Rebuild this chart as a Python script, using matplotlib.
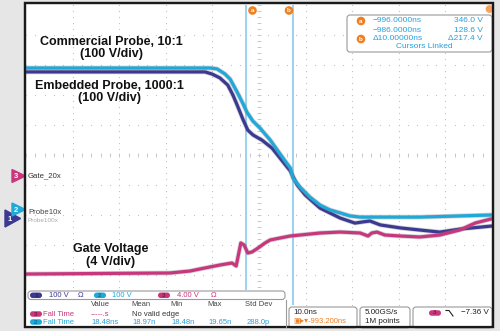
import matplotlib
matplotlib.use("Agg")
import matplotlib.pyplot as plt
import matplotlib.patheffects as pe
from matplotlib.patches import Rectangle, FancyBboxPatch, Polygon, Circle
import numpy as np

plt.rcParams['font.family'] = ['Liberation Sans', 'DejaVu Sans']

# ---- scope settings ----
t_center = -993.2          # ns, horizontal position
ns_per_div = 10.0
cursor_a = -996.0
cursor_b = -986.0

# ch1 = embedded probe, ch2 = commercial probe, ch3 = gate voltage
ch_scale = [100.0, 100.0, 4.0]     # V/div
ch_offset = [-2.1, -1.8, -0.7]     # div (marker positions)

# ---- waveforms (ns, V) ----
t_ch2 = [-1043.0, -1003.7, -1002.2, -1000.5, -999.4, -997.9, -996.6, -995.8,
         -994.5, -993.0, -990.8, -989.3, -987.6, -986.5, -985.9, -984.4,
         -982.3, -980.1, -978.0, -975.8, -973.7, -971.5, -958.7, -943.4]
v_ch2 = [470, 470, 467, 450, 433, 390, 350, 323, 293, 270, 230, 197, 160, 137,
         103, 73, 40, 13, -3, -13, -23, -27, -27, -20]

t_ch1 = [-1043.0, -1004.8, -1003.3, -1001.6, -999.9, -998.8, -997.9, -996.6,
         -995.6, -994.5, -993.4, -992.6, -990.4, -988.7, -986.5, -985.0,
         -983.3, -980.1, -975.8, -972.6, -970.9, -969.4, -967.2, -962.9,
         -958.7, -954.4, -950.1, -943.4]
v_ch1 = [487, 487, 480, 467, 443, 410, 377, 327, 293, 277, 267, 260, 233, 200,
         157, 110, 77, 33, 0, -17, -13, -10, -23, -33, -40, -47, -37, -27]

t_ch3 = [-1043.0, -1012.3, -1008.0, -1005.9, -1001.6, -999.0, -998.1, -997.1,
         -996.4, -995.6, -994.7, -993.4, -991.9, -990.8, -988.7, -986.5,
         -984.4, -980.1, -975.8, -971.5, -969.8, -969.0, -967.9, -966.2,
         -962.9, -958.7, -954.4, -950.1, -946.8, -943.4]
v_ch3 = [-13.07, -12.93, -12.67, -12.40, -11.87, -11.60, -12.00, -8.93,
         -9.20, -10.27, -10.13, -9.60, -8.93, -8.53, -8.27, -8.00,
         -7.87, -7.60, -7.47, -7.60, -8.00, -7.60, -7.47, -7.87,
         -8.00, -8.13, -7.87, -7.20, -6.27, -5.73]

cursor_rows = [("a", "\u2212996.0000ns", "346.0 V"),
               ("", "\u2212986.0000ns", "128.6 V"),
               ("b", "\u039410.00000ns", "\u0394217.4 V")]
meas_header = ["Value", "Mean", "Min", "Max", "Std Dev"]
meas_ch3 = ["-----.s", "No valid edge"]
meas_ch2 = ["18.48ns", "18.97n", "18.48n", "19.65n", "288.0p"]

C1 = '#3b3990'
C2 = '#1fa8d8'
C3 = '#c8377c'
BLUE_TXT = '#2a9fdc'
ORANGE = '#f07f22'

fig = plt.figure(figsize=(5, 3.31), dpi=100)

# background / bezel
bg = fig.add_axes([0, 0, 1, 1], zorder=0)
bg.set_xlim(0, 500)
bg.set_ylim(331, 0)
bg.axis('off')
bg.add_patch(Rectangle((0, 0), 500, 331, color='#e6e6e6'))
bg.add_patch(Rectangle((25, 3), 468, 324, facecolor='white',
                       edgecolor='#1a1a1a', lw=1.6))

# waveform area (10 x 10 div)
ax = fig.add_axes([26 / 500, (331 - 305) / 331, 466 / 500, 300 / 331], zorder=1)
ax.patch.set_alpha(0)
ax.set_xlim(t_center - 5 * ns_per_div, t_center + 5 * ns_per_div)
ax.set_ylim(-5, 5)
ax.axis('off')

grid_col = '#c4c4c4'
ys = np.arange(-5, 5.01, 0.2)
xs = t_center + np.arange(-5, 5.01, 0.2) * ns_per_div
for k in range(1, 10):
    gx = t_center + (k - 5) * ns_per_div
    ax.plot(np.full_like(ys, gx), ys, ls='none', marker='s', ms=0.8,
            mew=0, color=grid_col)
    gy = k - 5
    ax.plot(xs, np.full_like(xs, gy), ls='none', marker='s', ms=0.8,
            mew=0, color=grid_col)
# centre cross tick marks
ax.plot(np.full_like(ys, t_center), ys, ls='none', marker='_', ms=2.4,
        mew=0.6, color=grid_col)
ax.plot(xs, np.zeros_like(xs), ls='none', marker='|', ms=2.4,
        mew=0.6, color=grid_col)

# cursors
for tc in (cursor_a, cursor_b):
    ax.axvline(tc, color='#8fd1ef', lw=1.3, zorder=2)


def to_div(v, ch):
    return np.array(v) / ch_scale[ch] + ch_offset[ch]


fuzz = [pe.Stroke(linewidth=3.4, foreground='#7a7a8c', alpha=0.35), pe.Normal()]
ax.plot(t_ch1, to_div(v_ch1, 0), color=C1, lw=2.3, solid_joinstyle='round',
        path_effects=fuzz, zorder=3)
ax.plot(t_ch2, to_div(v_ch2, 1), color=C2, lw=2.3, solid_joinstyle='round',
        path_effects=fuzz, zorder=4)
ax.plot(t_ch3, to_div(v_ch3, 2), color=C3, lw=2.3, solid_joinstyle='round',
        path_effects=fuzz, zorder=5)

# overlay in pixel coordinates
ov = fig.add_axes([0, 0, 1, 1], zorder=3)
ov.set_xlim(0, 500)
ov.set_ylim(331, 0)
ov.axis('off')
ov.patch.set_alpha(0)


def pill(x, y, n, col, w=12, h=5.5, tc='white'):
    ov.add_patch(FancyBboxPatch((x - w / 2, y - h / 2), w, h,
                                boxstyle='round,pad=0,rounding_size=2.7',
                                facecolor=col, edgecolor='none'))
    ov.text(x, y, n, color=tc, fontsize=4.5, ha='center', va='center',
            fontweight='bold')


def box(x0, y0, x1, y1, r=3):
    ov.add_patch(FancyBboxPatch((x0, y0), x1 - x0, y1 - y0,
                                boxstyle='round,pad=0,rounding_size=%g' % r,
                                facecolor='white', edgecolor='#9a9a9a', lw=0.8))


# annotations
bold = dict(fontsize=9, fontweight='bold', ha='center', va='center',
            color='#111111')
ov.text(111, 42, "Commercial Probe, 10:1", **bold)
ov.text(111, 54, "(100 V/div)", **bold)
ov.text(109, 86, "Embedded Probe, 1000:1", **bold)
ov.text(109, 98, "(100 V/div)", **bold)
ov.text(111, 249, "Gate Voltage", **bold)
ov.text(111, 262, "(4 V/div)", **bold)

# channel markers at left
ov.add_patch(Polygon([(12, 169.5), (25.5, 176), (12, 182.5)], color=C3))
ov.text(15.5, 176.5, "3", color='white', fontsize=5.5, fontweight='bold',
        ha='center', va='center')
ov.add_patch(Polygon([(5, 210), (20.5, 218.5), (5, 227)], color=C1))
ov.text(9.5, 219.5, "1", color='white', fontsize=5.5, fontweight='bold',
        ha='center', va='center')
ov.add_patch(Polygon([(12, 203), (25.5, 209.5), (12, 216)], color=C2))
ov.text(15.5, 210, "2", color='white', fontsize=5.5, fontweight='bold',
        ha='center', va='center')
ov.text(28, 176, "Gate_20x", fontsize=5.6, color='#333333', va='center')
ov.text(28, 220, "Probe100x", fontsize=4.6, color='#aaaaaa', va='center')
ov.text(28, 212, "Probe10x", fontsize=5.6, color='#444444', va='center')

# cursor labels at top
for cx, lab in ((252.5, "a"), (289, "b")):
    ov.add_patch(Circle((cx, 10.5), 3.6, color=ORANGE))
    ov.text(cx, 10.8, lab, color='white', fontsize=4.5, fontweight='bold',
            ha='center', va='center')
ov.add_patch(Circle((489.5, 9), 3.2, color='#f5a25a'))

# cursor readout
box(347, 15, 492, 52)
for i, (lab, tstr, vstr) in enumerate(cursor_rows):
    yy = 21 + 9 * i
    if lab:
        ov.add_patch(Circle((361, yy), 3.6, color=ORANGE))
        ov.text(361, yy + 0.3, lab, color='white', fontsize=4.5,
                fontweight='bold', ha='center', va='center')
    ov.text(373, yy, tstr, color=BLUE_TXT, fontsize=6, va='center')
    ov.text(483, yy, vstr, color=BLUE_TXT, fontsize=6, va='center', ha='right')
ov.text(424, 47, "Cursors Linked", color=BLUE_TXT, fontsize=6,
        va='center', ha='center')

# bottom-left readouts
ov.add_patch(Rectangle((26, 289.5), 259.5, 37, facecolor='white',
                       edgecolor='none'))
box(28, 291, 285, 299.5, r=3)
ov.plot([285.5, 285.5], [299.5, 326.5], color='#9a9a9a', lw=0.8)
pill(36, 295.3, "1", C1, tc='#23226a')
ov.text(49, 295.3, "100 V", color=C1, fontsize=5.5, va='center')
ov.text(78, 295.3, "\u03a9", color=C1, fontsize=5.5, va='center')
pill(100, 295.3, "2", C2, tc='#0f6f98')
ov.text(112, 295.3, "100 V", color=C2, fontsize=5.5, va='center')
pill(164, 295.3, "3", C3, tc='#7a1a48')
ov.text(177, 295.3, "4.00 V", color=C3, fontsize=5.5, va='center')
ov.text(211, 295.3, "\u03a9", color=C3, fontsize=5.5, va='center')

for hx, h in zip([100, 141, 177, 215, 259], meas_header):
    ov.text(hx, 305, h, color='#444444', fontsize=5.5, ha='center',
            va='center')
pill(36, 314, "3", C3, tc='#7a1a48')
ov.text(43, 314, "Fall Time", color=C3, fontsize=5.5, va='center')
ov.text(91, 314, meas_ch3[0], color=C3, fontsize=5.5, va='center')
ov.text(132, 314, meas_ch3[1], color='#333333', fontsize=5.5, va='center')
pill(36, 322, "2", C2, tc='#0f6f98')
ov.text(43, 322, "Fall Time", color=C2, fontsize=5.5, va='center')
for mx, m in zip([91, 132, 171, 208, 247], meas_ch2):
    ov.text(mx, 322, m, color=BLUE_TXT, fontsize=5.5, va='center')

# bottom-right readouts
box(289, 307, 357, 328, r=3)
ov.text(293, 313, "10.0ns", color='#222222', fontsize=5.8, va='center')
ov.text(293, 321.5, "\u25a3\u25b8\u25be-993.200ns", color=ORANGE, fontsize=5.5,
        va='center')
box(360, 307, 410, 328, r=3)
ov.text(365, 313, "5.00GS/s", color='#222222', fontsize=5.8, va='center')
ov.text(365, 321.5, "1M points", color='#222222', fontsize=5.8, va='center')
box(413, 307, 492, 328, r=3)
pill(435, 313, "3", C3, tc='#7a1a48')
ov.plot([446, 449, 453], [310.5, 310.5, 316], color='#222222', lw=0.8)
ov.text(489, 313, "\u22127.36 V", color='#222222', fontsize=5.8, va='center',
        ha='right')

# redraw the bezel edge on top of the readout boxes
ov.add_patch(Rectangle((25, 3), 468, 324, facecolor='none',
                       edgecolor='#1a1a1a', lw=1.6))

fig.savefig("out.png", dpi=100)
